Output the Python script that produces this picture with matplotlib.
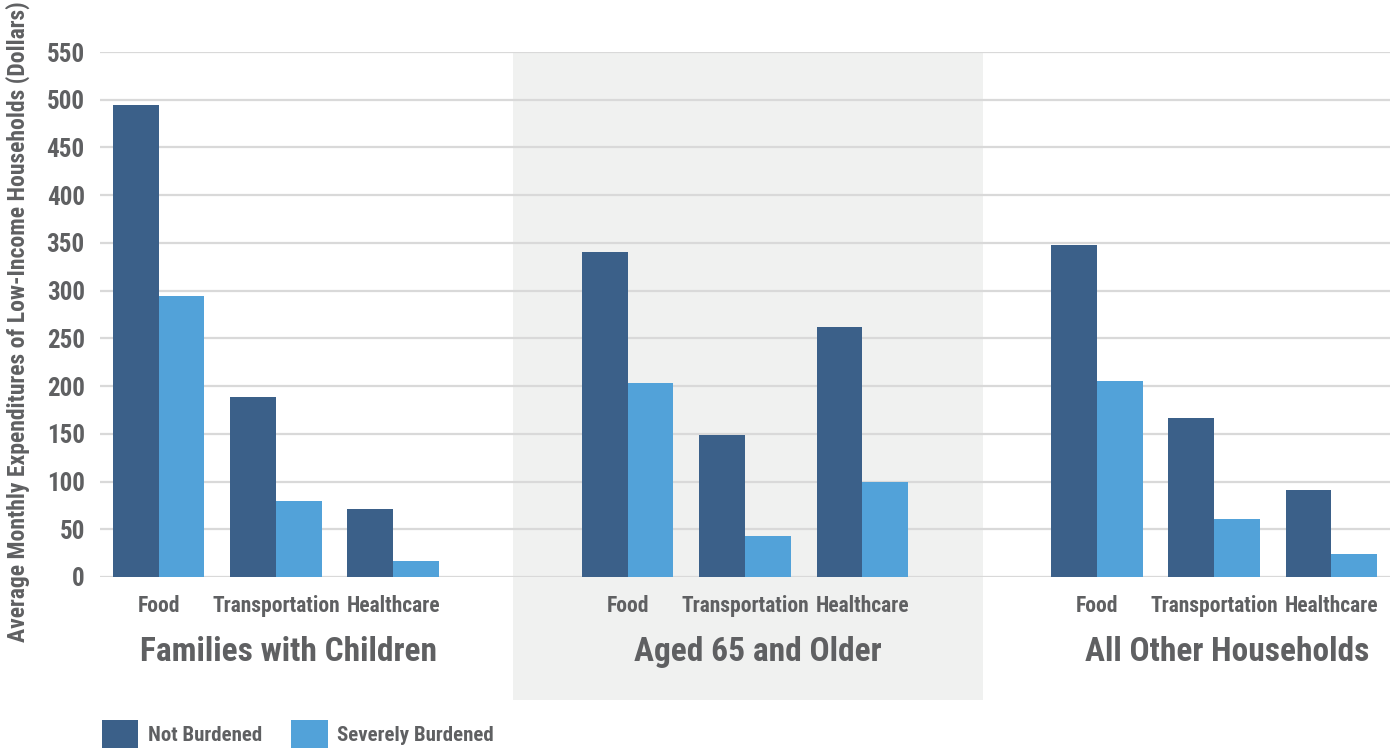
"""
Average monthly expenditures of low-income households, grouped bars by household type.
"""

import matplotlib
matplotlib.use("Agg")
import matplotlib.pyplot as plt
from matplotlib.patches import Patch
import numpy as np

# Data
groups = ['Families with Children', 'Aged 65 and Older', 'All Other Households']
categories = ['Food', 'Transportation', 'Healthcare']
not_burdened = [495, 189, 71, 340, 149, 262, 348, 167, 91]
severely_burdened = [294, 80, 17, 203, 43, 100, 205, 61, 24]
y_ticks = [0, 50, 100, 150, 200, 250, 300, 350, 400, 450, 500, 550]

DARK = '#3b6089'
LIGHT = '#52a2d9'
TEXT = '#5f6062'
GRID = '#d9d9d9'
BAND = '#f0f1f0'

plt.rcParams['font.family'] = ['Liberation Sans Narrow', 'DejaVu Sans Condensed',
                               'Roboto Condensed', 'Noto Sans Condensed',
                               'Open Sans Condensed', 'DejaVu Sans']
plt.rcParams['font.weight'] = 'bold'

fig = plt.figure(figsize=(13.96, 7.48), dpi=100)
ax = fig.add_axes([100 / 1396, 1 - 577 / 748, 1290 / 1396, 525 / 748])

# one empty slot between household groups
slots = []
for g in range(len(groups)):
    for c in range(len(categories)):
        slots.append(g * (len(categories) + 1) + c)
slots = np.array(slots)
width = 0.39

ax.bar(slots - width / 2, not_burdened, width, color=DARK, zorder=3)
ax.bar(slots + width / 2, severely_burdened, width, color=LIGHT, zorder=3)

# shaded background for the middle group, running down past the labels
mid_start = 1 * (len(categories) + 1) - 1
ax.axvspan(mid_start + 0.02, mid_start + 4.03, ymin=-0.235, ymax=0.998,
           color=BAND, lw=0, zorder=0, clip_on=False)

ax.set_xlim(-0.5, 10.5)
ax.set_ylim(0, 550)
ax.set_yticks(y_ticks)
ax.set_axisbelow(True)
ax.yaxis.grid(True, color=GRID, linewidth=1.6)
ax.tick_params(axis='y', length=0, pad=11, labelsize=18, labelcolor=TEXT)
ax.set_xticks(slots)
ax.set_xticklabels(categories * len(groups))
ax.tick_params(axis='x', length=0, pad=13, labelsize=15.5, labelcolor=TEXT)
for spine in ax.spines.values():
    spine.set_visible(False)

# household group labels (sit slightly right of the group centre)
for g, name in enumerate(groups):
    ax.text(g * (len(categories) + 1) + 1.11, -0.143, name,
            transform=ax.get_xaxis_transform(), ha='center', va='center',
            fontsize=24, color=TEXT, fontweight='bold')

fig.text(18 / 1396, 1 - 322 / 748,
         'Average Monthly Expenditures of Low-Income Households (Dollars)',
         rotation=90, ha='center', va='center', fontsize=17, color=TEXT,
         fontweight='bold')

handles = [Patch(facecolor=DARK, label='Not Burdened'),
           Patch(facecolor=LIGHT, label='Severely Burdened')]
fig.legend(handles=handles, loc='lower left', bbox_to_anchor=(102 / 1396, 0.0),
           ncol=2, frameon=False, fontsize=15, labelcolor=TEXT,
           handlelength=1.75, handleheight=1.7, handletextpad=0.45,
           columnspacing=1.4, borderpad=0, borderaxespad=0)

plt.savefig('out.png', dpi=100)
